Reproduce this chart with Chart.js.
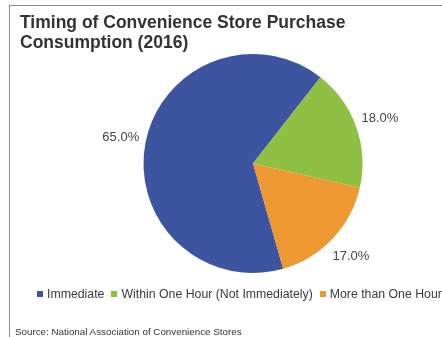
<!DOCTYPE html>
<html>
<head>
<meta charset="utf-8">
<script src="https://cdn.jsdelivr.net/npm/chart.js@4/dist/chart.umd.min.js"></script>
<style>
    body {
        margin: 0;
        background: #fff;
        font-family: "Liberation Sans", Arial, Helvetica, sans-serif;
    }
    #wrap {
        position: relative;
        width: 442px;
        height: 337px;
        overflow: hidden;
    }
    #frame {
        position: absolute;
        left: 9px;
        top: 5px;
        right: -5px;
        bottom: -5px;
        border-top: 1.5px solid #8a8a8a;
        border-left: 1.5px solid #8a8a8a;
    }
    #title {
        position: absolute;
        left: 20px;
        top: 13px;
        font-size: 17.5px;
        font-weight: bold;
        line-height: 19.5px;
        color: #333;
    }
    #legend {
        position: absolute;
        left: 37px;
        top: 287px;
        height: 14px;
        display: flex;
        align-items: center;
        font-size: 12.3px;
        line-height: 14px;
        color: #3a3a3a;
        white-space: nowrap;
    }
    #legend .item {
        display: flex;
        align-items: center;
        margin-right: 7px;
    }
    #legend .box {
        width: 6px;
        height: 6px;
        margin-right: 4px;
    }
    #source {
        position: absolute;
        left: 15px;
        top: 325.5px;
        font-size: 9.8px;
        line-height: 12px;
        color: #333;
        white-space: nowrap;
    }
    canvas {
        position: absolute;
        left: 0;
        top: 0;
    }
</style>
</head>
<body>
<div id="wrap">
    <canvas id="timingChart" width="442" height="337"></canvas>
    <div id="frame"></div>
    <div id="title">Timing of Convenience Store Purchase<br>Consumption (2016)</div>
    <div id="legend"></div>
    <div id="source">Source: National Association of Convenience Stores</div>
</div>

<script>
const categories = ['Immediate', 'Within One Hour (Not Immediately)', 'More than One Hour'];
const shares = [65.0, 18.0, 17.0];
const sliceColors = ['#3d55a0', '#8fc044', '#ee9832'];

// percentage labels just outside each slice
const outsideLabels = {
    id: 'outsideLabels',
    afterDatasetsDraw(chart) {
        const ctx = chart.ctx;
        const meta = chart.getDatasetMeta(0);
        ctx.save();
        ctx.font = '13px "Liberation Sans", Arial, sans-serif';
        ctx.fillStyle = '#444';
        ctx.textAlign = 'center';
        ctx.textBaseline = 'middle';
        meta.data.forEach((arc, i) => {
            const mid = (arc.startAngle + arc.endAngle) / 2;
            const r = arc.outerRadius * 1.23;
            const x = arc.x + Math.cos(mid) * r;
            const y = arc.y + Math.sin(mid) * r;
            ctx.fillText(shares[i].toFixed(1) + '%', x, y);
        });
        ctx.restore();
    }
};

function buildLegend(chart) {
    const box = document.getElementById('legend');
    chart.data.labels.forEach((label, i) => {
        const item = document.createElement('div');
        item.className = 'item';
        const swatch = document.createElement('span');
        swatch.className = 'box';
        swatch.style.background = chart.data.datasets[0].backgroundColor[i];
        const text = document.createElement('span');
        text.textContent = label;
        item.appendChild(swatch);
        item.appendChild(text);
        box.appendChild(item);
    });
}

const ctx = document.getElementById('timingChart').getContext('2d');

const chart = new Chart(ctx, {
    type: 'pie',
    data: {
        labels: categories,
        datasets: [{
            data: shares,
            backgroundColor: sliceColors,
            borderWidth: 0
        }]
    },
    options: {
        responsive: false,
        animation: false,
        rotation: 164,
        layout: {
            padding: { left: 64, right: 0, top: 54, bottom: 64 }
        },
        plugins: {
            legend: { display: false },
            title: { display: false },
            tooltip: { enabled: false }
        }
    },
    plugins: [outsideLabels]
});

buildLegend(chart);
</script>
</body>
</html>
